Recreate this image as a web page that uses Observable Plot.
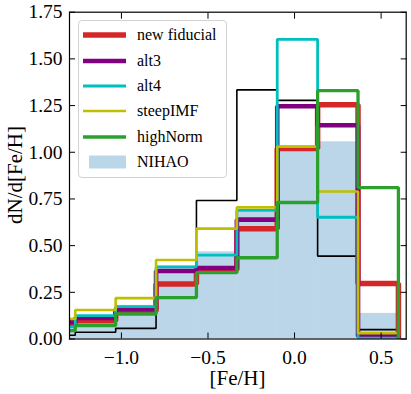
<!DOCTYPE html>
<html><head><meta charset="utf-8">
<script src="https://cdn.jsdelivr.net/npm/d3@7"></script>
<script src="https://cdn.jsdelivr.net/npm/@observablehq/plot@0.6"></script>
<style>
body{margin:0;background:#fff;}
#wrap{position:relative;width:411px;height:394px;font-family:"Liberation Serif",serif;}
#legend{position:absolute;left:78px;top:20px;width:149px;height:158px;border:1px solid #d2d2d2;border-radius:4px;background:rgba(255,255,255,0.8);box-sizing:border-box;}
.lrow{position:absolute;left:0;height:20px;font-size:16px;line-height:20px;}
.lrow svg{position:absolute;left:4px;top:0;}
.lrow span{position:absolute;left:58px;white-space:nowrap;}
.xlab{position:absolute;left:69px;width:337px;top:366px;text-align:center;font-size:21px;}
.ylab{position:absolute;left:15px;top:175px;transform:translate(-50%,-50%) rotate(-90deg);font-size:21px;white-space:nowrap;}
</style></head><body><div id="wrap"></div>
<script>
// Histogram bin edges ([Fe/H])
const binEdges = [-1.5, -1.2667, -1.0333, -0.8, -0.5667, -0.3333, -0.1, 0.1333, 0.3667, 0.6];
// Series values per bin (dN/d[Fe/H])
const newFiducial = [0.075, 0.098, 0.148, 0.294, 0.37, 0.591, 1.02, 1.254, 0.297];
const alt3        = [0.09, 0.113, 0.16, 0.364, 0.38, 0.639, 1.246, 1.145, 0.015];
const alt4        = [0.065, 0.125, 0.173, 0.386, 0.449, 0.689, 1.605, 0.652, 0.005];
const steepIMF    = [0.107, 0.155, 0.219, 0.423, 0.591, 0.705, 1.03, 0.79, 0.031];
const highNorm    = [0.045, 0.072, 0.134, 0.222, 0.355, 0.435, 0.731, 1.33, 0.811];
const nihao       = [0.06, 0.115, 0.18, 0.39, 0.467, 0.68, 1.01, 1.056, 0.137];
const observed    = [0.02, 0.036, 0.057, 0.225, 0.742, 1.334, 1.278, 0.444, 0.05];
// Series labels
const seriesNames = ["new fiducial", "alt3", "alt4", "steepIMF", "highNorm"];
const fillName = "NIHAO";
// Ticks
const xTicks = [-1.0, -0.5, 0.0, 0.5];
const yTicks = [0, 0.25, 0.5, 0.75, 1.0, 1.25, 1.5, 1.75];

const seriesValues = [newFiducial, alt3, alt4, steepIMF, highNorm];
const seriesColors = ["#d62728", "#800080", "#00bfbf", "#bfbf00", "#2ca02c"];
const seriesWidths = [5.5, 4.6, 2.8, 2.6, 3.3];

function stepPath(vals) {
  const pts = [{x: binEdges[0], y: 0}];
  vals.forEach((v, i) => { pts.push({x: binEdges[i], y: v}, {x: binEdges[i + 1], y: v}); });
  pts.push({x: binEdges[binEdges.length - 1], y: 0});
  return pts;
}
const bins = nihao.map((v, i) => ({x1: binEdges[i], x2: binEdges[i + 1], v}));
const fmtX = d => (d < 0 ? "\u2212" : "") + Math.abs(d).toFixed(1);

const lineMarks = seriesValues.map((vals, i) =>
  Plot.line(stepPath(vals), {x: "x", y: "y", stroke: seriesColors[i], strokeWidth: seriesWidths[i],
    strokeLinejoin: "miter", strokeLinecap: "butt", clip: true}));

const chart = Plot.plot({
  width: 411, height: 394,
  marginTop: 11.7, marginRight: 5.3, marginBottom: 55.5, marginLeft: 69,
  x: {domain: [-1.3, 0.645], label: null},
  y: {domain: [0, 1.75], label: null},
  style: {fontFamily: "'Liberation Serif', serif", fontSize: "19.5px", background: "white", color: "black", overflow: "visible"},
  marks: [
    Plot.rectY(bins, {x1: "x1", x2: "x2", y: "v", fill: "#1f77b4", fillOpacity: 0.3, clip: true}),
    Plot.line(stepPath(observed), {x: "x", y: "y", stroke: "black", strokeWidth: 1.6, strokeLinejoin: "miter", clip: true}),
    ...lineMarks,
    Plot.frame({stroke: "black", strokeWidth: 1.2}),
    Plot.axisX(xTicks, {anchor: "bottom", tickSize: -6, tickPadding: 17.5, tickFormat: fmtX, fontSize: 19.5, label: null}),
    Plot.axisX(xTicks, {anchor: "top", tickSize: -6, tickFormat: () => "", label: null}),
    Plot.axisY(yTicks, {anchor: "left", tickSize: -6, tickPadding: 13, tickFormat: d => d.toFixed(2), fontSize: 19.5, label: null}),
    Plot.axisY(yTicks, {anchor: "right", tickSize: -6, tickFormat: () => "", label: null})
  ]
});

const wrap = document.getElementById("wrap");
wrap.appendChild(chart);

// axis titles
const xl = document.createElement("div"); xl.className = "xlab"; xl.textContent = "[Fe/H]"; wrap.appendChild(xl);
const yl = document.createElement("div"); yl.className = "ylab"; yl.textContent = "dN/d[Fe/H]"; wrap.appendChild(yl);

// legend
const leg = document.createElement("div"); leg.id = "legend"; wrap.appendChild(leg);
const rowTops = [4, 30, 55, 80, 106, 131];
seriesNames.forEach((name, i) => {
  const row = document.createElement("div"); row.className = "lrow"; row.style.top = rowTops[i] + "px";
  row.innerHTML = `<svg width="44" height="20"><line x1="0" x2="43" y1="10" y2="10" stroke="${seriesColors[i]}" stroke-width="${seriesWidths[i]}"/></svg><span>${name}</span>`;
  leg.appendChild(row);
});
{
  const row = document.createElement("div"); row.className = "lrow"; row.style.top = rowTops[5] + "px";
  row.innerHTML = `<svg width="44" height="20"><rect x="6" y="3.5" width="37" height="13" fill="#1f77b4" fill-opacity="0.3"/></svg><span>${fillName}</span>`;
  leg.appendChild(row);
}
</script></body></html>
